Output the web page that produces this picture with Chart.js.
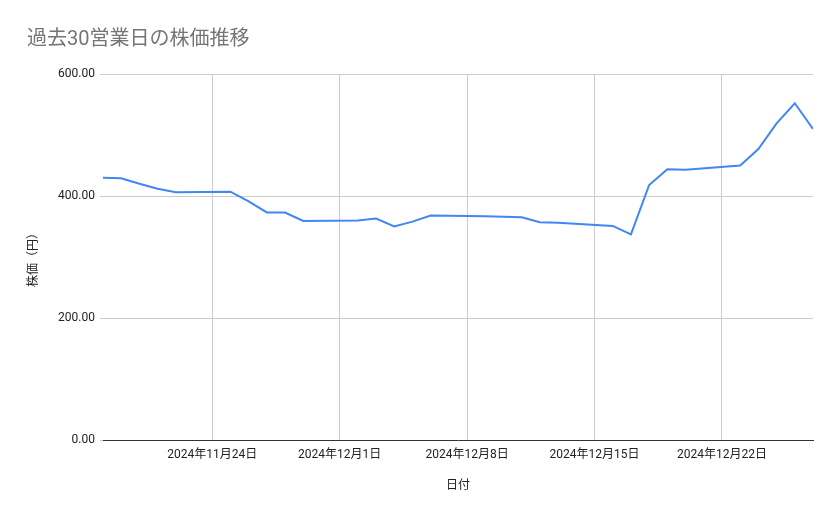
<!DOCTYPE html>
<html>
<head>
<meta charset="utf-8">
<script src="https://cdn.jsdelivr.net/npm/chart.js@4"></script>
<style>
  body { margin: 0; background: #fff; }
</style>
</head>
<body>
<canvas id="grafik" width="839" height="519"></canvas>
<script>
// 営業日
const dates = [
  "2024-11-18", "2024-11-19", "2024-11-20", "2024-11-21", "2024-11-22",
  "2024-11-25", "2024-11-26", "2024-11-27", "2024-11-28", "2024-11-29",
  "2024-12-02", "2024-12-03", "2024-12-04", "2024-12-05", "2024-12-06",
  "2024-12-09", "2024-12-10", "2024-12-11", "2024-12-12", "2024-12-13",
  "2024-12-16", "2024-12-17", "2024-12-18", "2024-12-19", "2024-12-20",
  "2024-12-23", "2024-12-24", "2024-12-25", "2024-12-26", "2024-12-27"
];
// 株価（円）
const prices = [
  430, 429, 420, 412, 406,
  407, 391, 373, 373, 359,
  360, 363, 350, 358, 368,
  367, 366, 365, 357, 356,
  351, 337, 418, 444, 443,
  450, 477, 519, 552, 510
];
// x軸の目盛り（日曜日）
const tickDates = ["2024-11-24", "2024-12-01", "2024-12-08", "2024-12-15", "2024-12-22"];
const yTicks = [0, 200, 400, 600];

const toMs = s => {
  const [y, m, d] = s.split("-").map(Number);
  return Date.UTC(y, m - 1, d);
};
const fmtDate = v => {
  const d = new Date(v);
  return d.getUTCFullYear() + "年" + (d.getUTCMonth() + 1) + "月" + d.getUTCDate() + "日";
};

const font = "Roboto, 'Noto Sans CJK JP', sans-serif";
Chart.defaults.font.family = font;
Chart.defaults.color = "#222";

const crt = new Chart(document.getElementById("grafik"), {
  type: "line",
  data: {
    datasets: [{
      data: dates.map((d, i) => ({ x: toMs(d), y: prices[i] })),
      borderColor: "#4285F4",
      borderWidth: 2,
      pointRadius: 0,
      tension: 0,
      fill: false
    }]
  },
  options: {
    responsive: false,
    animation: false,
    layout: { padding: { left: 27, right: 26, top: 0, bottom: 0 } },
    scales: {
      x: {
        type: "linear",
        min: toMs(dates[0]),
        max: toMs(dates[dates.length - 1]),
        afterBuildTicks: s => { s.ticks = tickDates.map(d => ({ value: toMs(d) })); },
        afterFit: s => { s.height = 79; },
        ticks: {
          autoSkip: false,
          maxRotation: 0,
          padding: 8,
          font: { size: 12 },
          callback: v => fmtDate(v)
        },
        grid: { color: "#cccccc", drawTicks: false },
        border: { display: true, color: "#333", width: 1 },
        title: {
          display: true,
          text: "日付",
          font: { size: 12 },
          padding: { top: 0, bottom: 26 }
        }
      },
      y: {
        min: 0,
        max: 600,
        afterBuildTicks: s => { s.ticks = yTicks.map(v => ({ value: v })); },
        afterFit: s => { s.width = 76; },
        ticks: {
          padding: 5,
          font: { size: 12 },
          callback: v => v.toFixed(2)
        },
        grid: { color: "#cccccc", tickLength: 3 },
        border: { display: false },
        title: {
          display: true,
          text: "株価（円）",
          font: { size: 12 },
          padding: 0
        }
      }
    },
    plugins: {
      legend: { display: false },
      tooltip: { enabled: false },
      title: {
        display: true,
        text: "過去30営業日の株価推移",
        align: "start",
        color: "#757575",
        font: { size: 20, weight: "normal" },
        padding: { top: 28, bottom: 22 }
      }
    }
  }
});
</script>
</body>
</html>
